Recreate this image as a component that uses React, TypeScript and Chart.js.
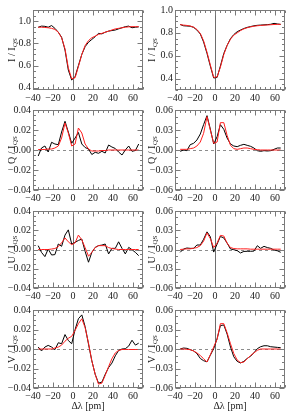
import React, { useEffect, useRef } from 'react';
import { Chart, registerables } from 'chart.js';

Chart.register(...registerables);

// wavelength offset (pm)
const lambda = [-34.8, -31.5, -28.1, -24.8, -21.4, -18.1, -14.7, -11.4, -8.0, -4.7, -1.3, 2.1, 5.4, 8.8, 12.1, 15.5, 18.8, 22.2, 25.5, 28.9, 32.2, 35.6, 38.9, 42.3, 45.6, 49.0, 52.3, 55.7, 59.0, 62.4, 65.7];

const iLeftObs = [0.945, 0.955, 0.953, 0.945, 0.96, 0.935, 0.9, 0.855, 0.74, 0.56, 0.47, 0.5, 0.6, 0.7, 0.77, 0.81, 0.835, 0.86, 0.89, 0.885, 0.9, 0.91, 0.915, 0.92, 0.93, 0.94, 0.95, 0.955, 0.94, 0.945, 0.948];
const iLeftFit = [0.945, 0.945, 0.943, 0.94, 0.935, 0.925, 0.9, 0.85, 0.75, 0.58, 0.48, 0.49, 0.59, 0.7, 0.78, 0.825, 0.85, 0.865, 0.88, 0.89, 0.9, 0.91, 0.92, 0.93, 0.935, 0.94, 0.945, 0.948, 0.95, 0.95, 0.95];
const iRightObs = [0.873, 0.862, 0.86, 0.858, 0.848, 0.825, 0.79, 0.72, 0.62, 0.51, 0.405, 0.41, 0.51, 0.62, 0.69, 0.75, 0.785, 0.81, 0.825, 0.838, 0.848, 0.855, 0.862, 0.866, 0.868, 0.87, 0.872, 0.875, 0.883, 0.878, 0.874];
const iRightFit = [0.872, 0.868, 0.865, 0.86, 0.85, 0.83, 0.795, 0.73, 0.63, 0.52, 0.41, 0.415, 0.5, 0.61, 0.69, 0.745, 0.78, 0.8, 0.82, 0.835, 0.845, 0.852, 0.858, 0.862, 0.865, 0.867, 0.869, 0.871, 0.873, 0.874, 0.875];

const qLeftObs = [-0.006, 0.002, 0.004, -0.002, 0.0077, 0.006, 0.0053, 0.018, 0.0287, 0.018, 0.0067, 0.012, 0.0175, 0.006, 0.0025, 0.001, -0.0045, -0.0023, -0.0033, -0.0013, -0.003, 0.005, 0.003, 0.0015, -0.002, -0.005, 0, 0.004, -0.0013, -0.0005, 0.006];
const qLeftFit = [0.0005, 0.0005, 0.0005, 0.001, 0.001, 0.002, 0.004, 0.012, 0.027, 0.017, 0.004, 0.006, 0.022, 0.017, 0.006, 0.001, -0.001, -0.001, -0.001, -0.0005, -0.0005, 0, 0, 0, 0, 0, 0, 0, 0, 0, 0];
const qRightObs = [-0.002, 0, -0.001, 0.008, 0.01, 0.015, 0.024, 0.038, 0.0515, 0.0315, 0.009, 0.02, 0.038, 0.031, 0.018, 0.009, 0.006, 0.005, 0.007, 0.0085, 0.007, 0.0055, 0.003, -0.001, -0.002, -0.001, -0.0015, -0.001, 0.001, 0.003, 0.003];
const qRightFit = [0.001, 0.001, 0.001, 0.002, 0.003, 0.006, 0.012, 0.025, 0.05, 0.03, 0.01, 0.012, 0.041, 0.041, 0.022, 0.007, 0.002, 0.001, 0.002, 0.003, 0.003, 0.002, 0.001, 0.0005, 0, 0, 0, 0, 0, 0, 0];

const uLeftObs = [0.004, -0.003, -0.0074, 0.0005, -0.0057, -0.0053, 0.0057, 0.0033, 0.015, 0.0204, 0.0057, 0.0074, 0.0094, 0.0108, -0.0019, -0.0132, -0.003, 0.0022, 0.004, 0.0046, 0.0057, -0.0046, 0.0012, 0.0012, 0.008, 0.0012, -0.0046, 0.0022, -0.0002, -0.003, -0.0064];
const uLeftFit = [0, 0, 0, 0, 0.0005, 0.001, 0.003, 0.007, 0.012, 0.008, 0.005, 0.007, 0.015, 0.01, 0.002, -0.007, -0.003, 0.002, 0.004, 0.004, 0.004, 0.002, 0.001, 0.0005, 0, 0, 0, 0, 0, 0, 0];
const uRightObs = [-0.0044, 0.0008, 0.0023, 0.0018, 0.0018, 0.007, 0.007, 0.016, 0.0275, 0.02, -0.004, 0.0085, 0.0203, 0.018, 0.01, 0.0008, -0.0003, -0.0018, -0.0054, -0.003, -0.0028, -0.0028, -0.0025, 0.0059, 0.0018, 0.0049, 0.003, 0.0018, -0.0008, -0.002, -0.0044];
const uRightFit = [0, 0.0005, 0.001, 0.001, 0.002, 0.003, 0.006, 0.013, 0.026, 0.017, 0.003, 0.01, 0.022, 0.021, 0.01, 0.003, 0.0015, 0.001, 0.001, 0.001, 0.001, 0.0005, 0.0005, 0.0005, 0.0005, 0.0005, 0.0005, 0.0005, 0.0005, 0.0005, 0.0005];

const vLeftObs = [0.002, -0.002, 0.002, 0.0037, 0.002, -0.0007, 0.0064, 0.0054, 0.0148, 0.0087, 0.0054, 0.02, 0.031, 0.035, 0.023, 0.005, -0.012, -0.026, -0.035, -0.034, -0.026, -0.019, -0.0145, -0.007, -0.0015, 0, 0.0003, 0.003, 0.009, 0.004, 0.006];
const vLeftFit = [0, 0, 0, 0, 0, 0.001, 0.002, 0.004, 0.008, 0.011, 0.013, 0.019, 0.026, 0.031, 0.022, 0.006, -0.012, -0.026, -0.036, -0.035, -0.027, -0.018, -0.01, -0.004, -0.0015, -0.0005, -0.0005, -0.0005, -0.0005, -0.0005, -0.0005];
const vRightObs = [0, 0.0015, 0.001, -0.001, -0.003, -0.007, -0.0146, -0.018, -0.0197, -0.0096, 0.0005, 0.016, 0.036, 0.037, 0.023, 0.003, -0.012, -0.019, -0.0215, -0.019, -0.0145, -0.011, -0.006, 0.0005, 0.0035, 0.005, 0.005, 0.0035, 0.003, 0.0025, 0.002];
const vRightFit = [0, 0, -0.0005, -0.001, -0.003, -0.006, -0.01, -0.015, -0.02, -0.009, 0.003, 0.015, 0.039, 0.039, 0.025, 0.008, -0.007, -0.017, -0.021, -0.02, -0.015, -0.01, -0.006, -0.002, 0, 0, 0, 0, 0, 0, 0];

// tick labels
const xTickValues = [-40, -20, 0, 20, 40, 60];
const yTicksI = [0.4, 0.6, 0.8, 1.0];
const yTicksPolLeft = [-0.04, -0.02, 0, 0.02, 0.04];
const yTicksPolRight = [-0.06, -0.03, 0, 0.03, 0.06];
const stokesNames = ['I', 'Q', 'U', 'V'];
const xAxisTitle = 'Δλ [pm]';

const FONT = '"Liberation Serif", "Times New Roman", serif';
const FS = 10;
const PAD_T = 7;
const PAD_R = 6;

const COLS = [
  { cl: 0, pl: 33, pr: 143, tx: 12 },
  { cl: 146, pl: 175, pr: 285, tx: 152 },
];
const ROWS = [
  { pt: 9, pb: 90 },
  { pt: 109, pb: 190 },
  { pt: 210, pb: 288 },
  { pt: 309, pb: 388 },
];

type Spec = {
  row: number;
  col: number;
  obs: number[];
  fit: number[];
  ymin: number;
  ymax: number;
  yTicks: number[];
  yDigits: number;
  yMinor: number;
};

const specs: Spec[] = [
  { row: 0, col: 0, obs: iLeftObs, fit: iLeftFit, ymin: 0.38, ymax: 1.1, yTicks: yTicksI, yDigits: 1, yMinor: 0.05 },
  { row: 0, col: 1, obs: iRightObs, fit: iRightFit, ymin: 0.3, ymax: 1.0, yTicks: yTicksI, yDigits: 1, yMinor: 0.05 },
  { row: 1, col: 0, obs: qLeftObs, fit: qLeftFit, ymin: -0.04, ymax: 0.04, yTicks: yTicksPolLeft, yDigits: 2, yMinor: 0.005 },
  { row: 1, col: 1, obs: qRightObs, fit: qRightFit, ymin: -0.06, ymax: 0.06, yTicks: yTicksPolRight, yDigits: 2, yMinor: 0.01 },
  { row: 2, col: 0, obs: uLeftObs, fit: uLeftFit, ymin: -0.04, ymax: 0.04, yTicks: yTicksPolLeft, yDigits: 2, yMinor: 0.005 },
  { row: 2, col: 1, obs: uRightObs, fit: uRightFit, ymin: -0.06, ymax: 0.06, yTicks: yTicksPolRight, yDigits: 2, yMinor: 0.01 },
  { row: 3, col: 0, obs: vLeftObs, fit: vLeftFit, ymin: -0.04, ymax: 0.04, yTicks: yTicksPolLeft, yDigits: 2, yMinor: 0.005 },
  { row: 3, col: 1, obs: vRightObs, fit: vRightFit, ymin: -0.06, ymax: 0.06, yTicks: yTicksPolRight, yDigits: 2, yMinor: 0.01 },
];

function fmt(v: number, d: number) {
  const s = Math.abs(v).toFixed(d);
  return v < -1e-12 ? '\u2212' + s : s;
}

function minorValues(min: number, max: number, step: number) {
  const out: number[] = [];
  const k0 = Math.ceil(min / step - 1e-6);
  const k1 = Math.floor(max / step + 1e-6);
  for (let k = k0; k <= k1; k++) out.push(k * step);
  return out;
}

const framePlugin = {
  id: 'stokesFrame',
  beforeDatasetsDraw(chart: any, _a: any, o: any) {
    const { ctx, chartArea: a } = chart;
    const xs = chart.scales.x;
    const ys = chart.scales.y;
    ctx.save();
    ctx.beginPath();
    ctx.rect(a.left, a.top, a.right - a.left, a.bottom - a.top);
    ctx.clip();
    ctx.lineWidth = 1;
    if (o.dashedZero) {
      const y0 = Math.round(ys.getPixelForValue(0)) + 0.5;
      ctx.strokeStyle = '#8c8c8c';
      ctx.setLineDash([3, 3]);
      ctx.beginPath();
      ctx.moveTo(a.left, y0);
      ctx.lineTo(a.right, y0);
      ctx.stroke();
      ctx.setLineDash([]);
    }
    const x0 = Math.round(xs.getPixelForValue(0)) + 0.5;
    ctx.strokeStyle = '#6e6e6e';
    ctx.beginPath();
    ctx.moveTo(x0, a.top);
    ctx.lineTo(x0, a.bottom);
    ctx.stroke();
    ctx.restore();
  },
  afterDatasetsDraw(chart: any, _a: any, o: any) {
    const { ctx, chartArea: a } = chart;
    const xs = chart.scales.x;
    const ys = chart.scales.y;
    ctx.save();
    ctx.strokeStyle = '#7a7a7a';
    ctx.lineWidth = 1;
    const L = a.left + 0.5, R = a.right - 0.5, T = a.top + 0.5, B = a.bottom - 0.5;
    ctx.strokeRect(L, T, R - L, B - T);
    ctx.beginPath();
    for (const v of minorValues(xs.min, xs.max, 5)) {
      const major = Math.abs(v % 20) < 1e-6;
      const len = major ? 5 : 2.5;
      const px = Math.round(xs.getPixelForValue(v)) + 0.5;
      ctx.moveTo(px, B);
      ctx.lineTo(px, B - len);
      ctx.moveTo(px, T);
      ctx.lineTo(px, T + len);
    }
    const majors: number[] = o.yTicks;
    for (const v of minorValues(ys.min, ys.max, o.yMinor)) {
      const major = majors.some((m) => Math.abs(m - v) < o.yMinor * 1e-3);
      const len = major ? 5 : 2.5;
      const py = Math.round(ys.getPixelForValue(v)) + 0.5;
      ctx.moveTo(L, py);
      ctx.lineTo(L + len, py);
      ctx.moveTo(R, py);
      ctx.lineTo(R - len, py);
    }
    ctx.stroke();
    ctx.restore();
  },
  afterDraw(chart: any, _a: any, o: any) {
    const { ctx, chartArea: a } = chart;
    ctx.save();
    ctx.fillStyle = '#1a1a1a';
    const main = o.name + ' / I';
    const sub = 'QS';
    ctx.font = `${FS}px ${FONT}`;
    const wMain = ctx.measureText(main).width;
    ctx.font = `${FS * 0.7}px ${FONT}`;
    const wSub = ctx.measureText(sub).width;
    const total = wMain + wSub + 0.5;
    const cy = (a.top + a.bottom) / 2;
    ctx.translate(o.titleX, cy);
    ctx.rotate(-Math.PI / 2);
    ctx.textBaseline = 'middle';
    ctx.textAlign = 'left';
    ctx.font = `${FS}px ${FONT}`;
    ctx.fillText(main, -total / 2, 0);
    ctx.font = `${FS * 0.7}px ${FONT}`;
    ctx.fillText(sub, -total / 2 + wMain + 0.5, 3);
    ctx.setTransform(1, 0, 0, 1, 0, 0);
    if (o.xTitle) {
      ctx.font = `${FS}px ${FONT}`;
      ctx.textAlign = 'center';
      ctx.textBaseline = 'middle';
      ctx.fillText(xAxisTitle, (a.left + a.right) / 2, o.xTitleY);
    }
    ctx.restore();
  },
};

function Panel({ spec }: { spec: Spec }) {
  const ref = useRef<HTMLCanvasElement>(null);
  const col = COLS[spec.col];
  const row = ROWS[spec.row];
  const isBottom = spec.row === 3;
  const xAxisH = isBottom ? 25 : 15;
  const left = col.cl;
  const top = row.pt - PAD_T;
  const width = col.pr + PAD_R - col.cl;
  const height = PAD_T + (row.pb - row.pt) + xAxisH;

  useEffect(() => {
    const canvas = ref.current;
    if (!canvas) return;
    const tickFont = { family: FONT, size: FS };
    const chart = new Chart(canvas, {
      type: 'line',
      data: {
        datasets: [
          {
            data: lambda.map((x, i) => ({ x, y: spec.fit[i] })),
            borderColor: '#ff1e1e',
            borderWidth: 1,
            pointRadius: 0,
            tension: 0,
            fill: false,
          },
          {
            data: lambda.map((x, i) => ({ x, y: spec.obs[i] })),
            borderColor: '#000000',
            borderWidth: 1,
            pointRadius: 0,
            tension: 0,
            fill: false,
          },
        ],
      },
      options: {
        animation: false,
        responsive: false,
        events: [],
        devicePixelRatio: 1,
        layout: { padding: { top: PAD_T, right: PAD_R, left: 0, bottom: 0 } },
        plugins: {
          legend: { display: false },
          tooltip: { enabled: false },
          stokesFrame: {
            name: stokesNames[spec.row],
            titleX: col.tx - col.cl,
            yTicks: spec.yTicks,
            yMinor: spec.yMinor,
            dashedZero: spec.row > 0,
            xTitle: isBottom,
            xTitleY: 406 - top,
          },
        } as any,
        scales: {
          x: {
            type: 'linear',
            min: -40,
            max: 70,
            grid: { display: false, drawTicks: false, tickLength: 0 },
            border: { display: false },
            afterBuildTicks: (s: any) => {
              s.ticks = xTickValues.map((v) => ({ value: v }));
            },
            afterFit: (s: any) => {
              s.height = xAxisH;
            },
            ticks: {
              padding: 2,
              font: tickFont,
              color: '#1a1a1a',
              maxRotation: 0,
              autoSkip: false,
              callback: (v: any) => fmt(Number(v), 0),
            },
          },
          y: {
            type: 'linear',
            min: spec.ymin,
            max: spec.ymax,
            grid: { display: false, drawTicks: false, tickLength: 0 },
            border: { display: false },
            afterBuildTicks: (s: any) => {
              s.ticks = spec.yTicks.map((v) => ({ value: v }));
            },
            afterFit: (s: any) => {
              s.width = col.pl - col.cl;
            },
            ticks: {
              padding: 2,
              font: tickFont,
              color: '#1a1a1a',
              autoSkip: false,
              callback: (v: any) => fmt(Number(v), spec.yDigits),
            },
          },
        },
      } as any,
      plugins: [framePlugin as any],
    });
    return () => chart.destroy();
  }, []);

  return (
    <canvas
      ref={ref}
      width={width}
      height={height}
      style={{ position: 'absolute', left, top, width, height }}
    />
  );
}

export default function App() {
  return (
    <div
      style={{
        position: 'fixed',
        left: 0,
        top: 0,
        width: 299,
        height: 412,
        background: '#ffffff',
        overflow: 'hidden',
      }}
    >
      {specs.map((s, i) => (
        <Panel key={i} spec={s} />
      ))}
    </div>
  );
}
